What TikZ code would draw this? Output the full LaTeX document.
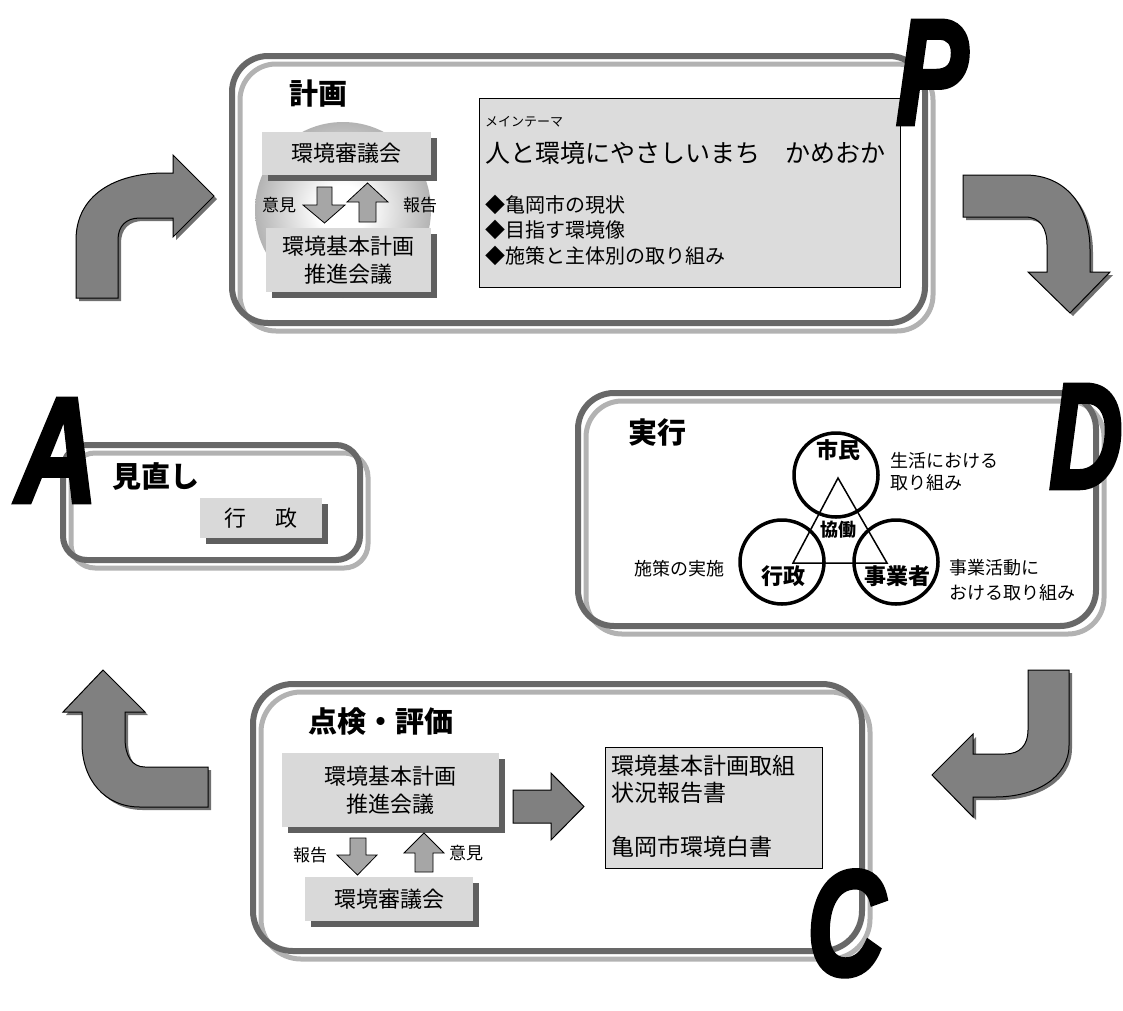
\documentclass[tikz,border=0pt]{standalone}
\usepackage{fontspec}
\setmainfont{Noto Sans CJK JP}
\newfontfamily\letterfont{Liberation Sans}[FakeBold=3]
\usetikzlibrary{shadows}
\definecolor{darkline}{HTML}{686868}
\definecolor{lightline}{HTML}{B2B2B2}
\definecolor{boxgray}{HTML}{D9D9D9}
\definecolor{themegray}{HTML}{DCDCDC}
\definecolor{shadowdark}{HTML}{5F5F5F}
\definecolor{arrowgray}{HTML}{808080}
\definecolor{smallarrow}{HTML}{A6A6A6}
\definecolor{glowedge}{HTML}{858585}
\pgfdeclareradialshading{glow}{\pgfpoint{0bp}{0bp}}{color(0bp)=(white); color(7bp)=(white); color(36bp)=(glowedge); color(50bp)=(glowedge)}
\newcommand\pdcabox[5]{%
  \draw[lightline, line width=5pt, rounded corners=#5pt] (#1+8,#2+8) rectangle (#3+8,#4+8);
  \draw[darkline, line width=6pt, rounded corners=#5pt] (#1,#2) rectangle (#3,#4);}
\tikzset{
  headfont/.style={font=\fontsize{29}{29}\selectfont\bfseries, inner sep=0pt},
  lbl/.style={font=\fontsize{17}{17}\selectfont, inner sep=0pt},
  txt/.style={font=\fontsize{18}{18}\selectfont, inner sep=0pt},
  graybox/.style={fill=boxgray, inner sep=0pt, align=center,
    font=\fontsize{22}{28}\selectfont,
    drop shadow={shadow xshift=6pt, shadow yshift=-6pt, fill=shadowdark, opacity=1}},
  framebox/.style={fill=themegray, draw=black, line width=1pt, inner sep=0pt},
  blockarrow/.style={fill=arrowgray, draw=black, line width=1pt, line join=miter,
    drop shadow={shadow xshift=3pt, shadow yshift=-3pt, fill=black!70, opacity=.8}},
  smallarrowstyle/.style={fill=smallarrow, draw=black, line width=0.8pt},
  circ/.style={circle, draw=black, line width=3.5pt, minimum size=84pt, inner sep=0pt},
  ctxt/.style={font=\fontsize{22}{22}\selectfont\bfseries, inner sep=0pt},
  bigletter/.style={font=\letterfont\bfseries\itshape\fontsize{150}{150}\selectfont, inner sep=0pt, anchor=base}
}
\begin{document}
\begin{tikzpicture}[x=1pt,y=-1pt]
\useasboundingbox (0,0) rectangle (1123,1010);

% ---------- curved block arrows ----------
\path[blockarrow] (76,298) -- (76,240) .. controls (76,195) and (115,173) .. (165,173) -- (173,173) -- (173,155) -- (214,196) -- (173,237) -- (173,218) -- (140,218) .. controls (126,218) and (118,226) .. (118,240) -- (118,298) -- cycle;
\path[blockarrow] (963,175) -- (1025,175) .. controls (1065,175) and (1090,205) .. (1090,250) -- (1090,272) -- (1110,272) -- (1070,313) -- (1028,272) -- (1047,272) -- (1047,245) .. controls (1047,228) and (1040,217) .. (1025,217) -- (963,217) -- cycle;
\path[blockarrow] (1028,670) -- (1069,670) -- (1069,745) .. controls (1069,778) and (1035,797) .. (995,797) -- (973,797) -- (973,817) -- (932,775) -- (973,734) -- (973,754) -- (1005,754) .. controls (1020,754) and (1028,745) .. (1028,730) -- cycle;
\path[blockarrow] (208,767) -- (208,807) -- (140,807) .. controls (105,807) and (82,780) .. (82,743) -- (82,712) -- (63,712) -- (103,670) -- (145,712) -- (125,712) -- (125,738) .. controls (125,756) and (132,767) .. (145,767) -- cycle;

% ---------- P : plan ----------
\pdcabox{232}{56}{925}{323}{36}
\node[headfont] (plan) at (318,94) {計画};
\shade[shading=glow] (343,210) circle (88);
\node[graybox, minimum width=169pt, minimum height=43pt] (pshin) at (346.5,153.5) {環境審議会};
\node[graybox, minimum width=165pt, minimum height=64pt] (psui) at (348.5,260) {環境基本計画\\推進会議};
\path[smallarrowstyle] (317,187) -- (332,187) -- (332,205) -- (345,205) -- (324.5,223) -- (303,205) -- (317,205) -- cycle;
\path[smallarrowstyle] (367.5,183) -- (388,202) -- (376,202) -- (376,222) -- (359,222) -- (359,202) -- (347,202) -- cycle;
\node[lbl] (piken) at (279,205) {意見};
\node[lbl] (phoko) at (420,205) {報告};
\node[framebox, minimum width=421pt, minimum height=189pt] (theme) at (689.5,192.5) {};
\node[font=\fontsize{13}{13}\selectfont, inner sep=0pt, anchor=west] (t1) at (485,122) {メインテーマ};
\node[font=\fontsize{25}{25}\selectfont, inner sep=0pt, anchor=west] (t2) at (485,153) {人と環境にやさしいまち　かめおか};
\node[font=\fontsize{20}{20}\selectfont, inner sep=0pt, anchor=west] (t3) at (485,205) {◆亀岡市の現状};
\node[font=\fontsize{20}{20}\selectfont, inner sep=0pt, anchor=west] (t4) at (485,230) {◆目指す環境像};
\node[font=\fontsize{20}{20}\selectfont, inner sep=0pt, anchor=west] (t5) at (485,256) {◆施策と主体別の取り組み};

% ---------- D : do ----------
\pdcabox{578}{393}{1096}{626}{36}
\node[headfont] (jikko) at (657,433) {実行};
\node[circ] (c1) at (836,475) {};
\node[circ] (c2) at (782,562) {};
\node[circ] (c3) at (896,562) {};
\coordinate (ta) at (838,478);
\coordinate (tb) at (793,563);
\coordinate (tc) at (887,563);
\draw[line width=1.5pt] (ta) -- (tb) -- (tc) -- cycle;
\node[ctxt] (shimin) at (838,450) {市民};
\node[ctxt] (gyosei) at (783,576) {行政};
\node[ctxt] (jigyo) at (897,576) {事業者};
\node[font=\fontsize{18}{18}\selectfont\bfseries, inner sep=0pt] (kyodo) at (838,530) {協働};
\node[txt, anchor=west] (d1) at (890,461) {生活における};
\node[txt, anchor=west] (d2) at (890,483) {取り組み};
\node[txt, anchor=west] (d3) at (949,568) {事業活動に};
\node[txt, anchor=west] (d4) at (949,593) {おける取り組み};
\node[txt, anchor=east] (d5) at (725,569) {施策の実施};

% ---------- C : check ----------
\pdcabox{253}{684}{862}{951}{40}
\node[headfont] (tenken) at (381,722) {点検・評価};
\node[graybox, minimum width=217pt, minimum height=74pt] (csui) at (390.5,790) {環境基本計画\\推進会議};
\node[graybox, minimum width=168pt, minimum height=44pt] (cshin) at (389,899) {環境審議会};
\path[smallarrowstyle] (350,838) -- (366,838) -- (366,855) -- (377,855) -- (357.5,875) -- (337,855) -- (350,855) -- cycle;
\path[smallarrowstyle] (424,833) -- (444,853) -- (433,853) -- (433,872) -- (415,872) -- (415,853) -- (404,853) -- cycle;
\node[lbl] (choko) at (310,855) {報告};
\node[lbl] (ciken) at (466,853) {意見};
\path[fill=arrowgray, draw=black, line width=1pt] (513,790) -- (551,790) -- (551,773) -- (584,806.5) -- (551,840) -- (551,823) -- (513,823) -- cycle;
\node[framebox, minimum width=217pt, minimum height=121pt] (report) at (713.5,807.5) {};
\node[font=\fontsize{23}{23}\selectfont, inner sep=0pt, anchor=west] (r1) at (611,766) {環境基本計画取組};
\node[font=\fontsize{23}{23}\selectfont, inner sep=0pt, anchor=west] (r2) at (611,793) {状況報告書};
\node[font=\fontsize{23}{23}\selectfont, inner sep=0pt, anchor=west] (r3) at (611,847) {亀岡市環境白書};

% ---------- A : act ----------
\pdcabox{63}{445}{360}{560}{24}
\node[headfont] (minaoshi) at (156,476) {見直し};
\node[graybox, minimum width=122pt, minimum height=40pt] (agyo) at (261,518) {行\hspace{30pt}政};

% ---------- big letters ----------
\node[bigletter] (LP) at (932,124) {\scalebox{0.72}[1]{P}};
\node[bigletter] (LD) at (1086,488) {\scalebox{0.68}[1]{D}};
\node[bigletter] (LA) at (57,502) {\scalebox{0.75}[1]{A}};
\node[bigletter] (LC) at (846,975) {\scalebox{0.72}[1]{C}};
\end{tikzpicture}
\end{document}
